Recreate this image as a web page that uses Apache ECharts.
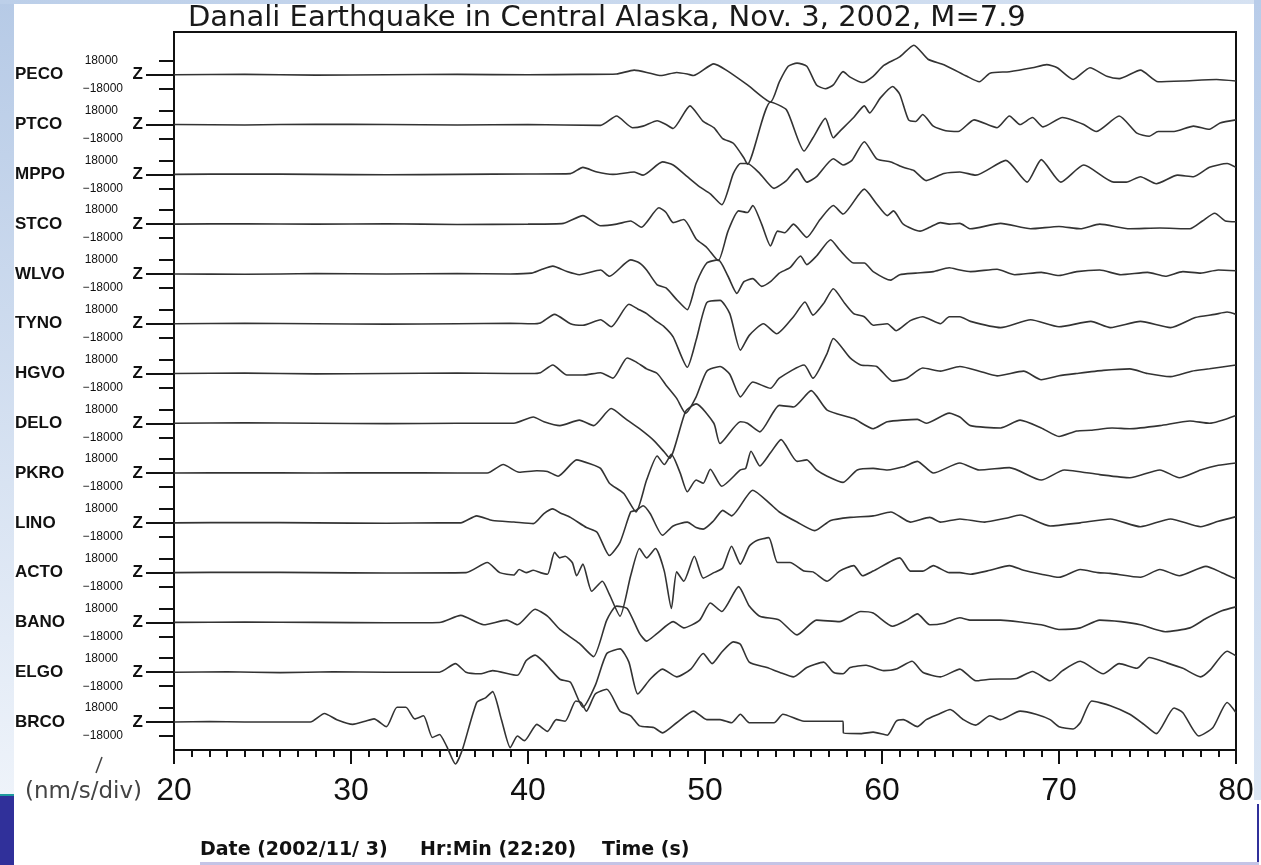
<!DOCTYPE html>
<html>
<head>
<meta charset="utf-8">
<title>Denali earthquake seismograms</title>
<script src="https://cdn.jsdelivr.net/npm/echarts@6/dist/echarts.min.js"></script>
<style>
  html, body { margin: 0; padding: 0; background: #ffffff; }
  #chart { width: 1261px; height: 865px; }
</style>
</head>
<body>
<div id="chart"></div>
<script>
// Station codes, top to bottom (vertical component Z)
const stations = ['PECO', 'PTCO', 'MPPO', 'STCO', 'WLVO', 'TYNO', 'HGVO',
                  'DELO', 'PKRO', 'LINO', 'ACTO', 'BANO', 'ELGO', 'BRCO'];

// Ground velocity per station: [time (s), amplitude (1000 nm/s)]
const PECO = [[20,0],[24,0.5],[28,-0.5],[32,0],[36,0.5],[40,0],[43,0.5],[45,1],[46,6],[46.9,2],[47.5,-1],[48.4,3],[49,1],[49.35,-1],[50.5,14],[51.2,6],[52.4,-13],[53.7,-35],[54.2,-9],[54.7,11],[55.2,15],[55.75,11],[56.3,-13],[56.8,-18],[57.25,-13],[57.8,4],[58.2,-3],[58.9,-10],[59.5,-2],[60.1,12],[61,23],[61.8,38],[62.6,20],[63.5,13],[64.8,-2],[65.5,-9],[66.1,2],[67.2,4],[68.5,9],[69.3,13],[69.9,9],[70.8,-6],[71.75,9],[72.7,-2],[73.4,-5],[74.6,6],[75.6,-9],[77,-8],[78.9,-6],[80,-8]];
const PTCO = [[20,0],[24,-0.5],[28,0.5],[32,0],[36,-0.5],[40,0],[44.1,-1],[45,11],[45.9,-4],[46.5,-2],[47.3,5],[47.8,0],[48.2,-5],[49.15,24],[49.9,4],[50.5,-4],[51,-18],[51.6,-24],[52.2,-43],[52.4,-51],[53.7,29],[54.6,19],[55.6,-34],[56.1,-17],[56.8,8],[57.25,-17],[57.6,-9],[58.4,9],[59,24],[59.3,15],[59.9,34],[60.6,49],[61,39],[61.5,6],[61.9,4],[62.3,13],[62.9,-2],[63.6,-8],[64.3,-9],[65.2,6],[66.5,-4],[67.2,11],[67.8,0],[68.5,9],[69.1,-3],[70.2,9],[71.4,0],[72.1,-9],[73.4,11],[74.4,-11],[75.1,-15],[75.6,-9],[76.5,-9],[77.6,-2],[78.5,-6],[79.1,2],[80,6]];
const MPPO = [[20,0],[24,0.5],[28,0],[32,-0.5],[36,0],[40,0.5],[42.4,1],[43.1,9],[43.9,3],[44.8,0],[46,3],[46.5,-1],[47.6,16],[48.2,12],[49,-3],[49.7,-16],[50.3,-25],[50.95,-39],[51.6,1],[52,14],[52.4,14],[53.1,1],[53.9,-18],[54.6,-8],[55.2,7],[55.75,-10],[56.3,-3],[57.25,20],[57.8,12],[58.3,18],[59,42],[59.7,20],[60.5,16],[61.2,9],[61.8,5],[62.5,-8],[63.5,1],[64.4,3],[65.3,-1],[67,18],[68.2,-10],[69,19],[70.1,-10],[71.4,12],[73.1,-10],[73.8,-10],[74.6,-3],[75.5,-12],[76.7,-1],[77.6,-3],[78.5,9],[79.5,14],[80,9]];
const STCO = [[20,0],[24,0.5],[28,0],[32,0.5],[36,-0.5],[40,0],[42,1],[43.1,11],[44.1,-2],[45,0],[45.8,4],[46.4,-4],[47.4,21],[47.8,15],[48.2,2],[48.8,6],[49.5,-19],[50.1,-30],[50.75,-47],[51.3,-9],[51.9,17],[52.4,15],[52.7,24],[53.2,0],[53.7,-28],[54.1,-9],[54.5,-11],[55,0],[55.75,-17],[56.5,6],[57.25,24],[57.8,13],[59,45],[59.7,26],[60.3,11],[60.65,17],[61.2,0],[62.15,-9],[62.7,-4],[63.3,2],[63.8,0],[64.4,1],[65,-6],[66.7,1],[68.4,-6],[70,-3],[71.2,-6],[72.3,0],[74,-6],[75.7,-5],[77.4,-6],[78.1,4],[78.8,14],[79.4,4],[80,3]];
const WLVO = [[20,0],[24,-0.5],[28,0.5],[32,0],[36,0.5],[39,0],[40.2,1],[40.7,5],[41.4,10],[42.2,3],[42.9,-1],[44.1,5],[44.6,-3],[45.8,18],[46.3,14],[46.7,5],[47.3,-14],[47.8,-18],[48.4,-33],[49,-46],[49.5,-12],[50.1,14],[50.75,18],[51.3,-3],[51.8,-25],[52.2,-10],[52.7,-6],[53.2,-16],[53.7,-10],[54.2,1],[54.8,8],[55.4,23],[55.75,12],[56.3,23],[57.1,44],[57.6,31],[58.4,14],[59,14],[59.5,3],[60.5,-8],[61,-1],[61.9,1],[62.9,3],[63.8,8],[64.4,5],[65,3],[66.5,6],[67.5,-1],[69,2],[70,-2],[71,3],[72.3,5],[73.5,-1],[75,2],[76,-3],[77,3],[78,1],[79,5],[80,4]];
const TYNO = [[20,0],[24,0.5],[28,0],[32,-0.5],[36,0],[39,0.5],[40.2,0],[40.7,1],[41.5,12],[42.4,0],[43.1,-2],[44.1,5],[44.7,-4],[45.7,25],[46.2,19],[46.7,13],[47.2,4],[47.7,-4],[48.2,-17],[49,-56],[49.5,-21],[50.1,27],[50.85,30],[51.4,13],[52,-34],[52.5,-15],[53.3,0],[54.05,-13],[55,9],[55.65,28],[56.1,11],[56.7,26],[57.25,45],[57.9,26],[58.4,13],[59,9],[59.5,-2],[60.3,0],[60.8,-9],[61.6,4],[62.3,9],[63.3,0],[63.8,9],[64.4,9],[65,3],[66.7,-5],[68.4,5],[70,-4],[71.8,3],[72.9,-5],[74.6,3],[76.3,-5],[77.7,8],[78.8,12],[79.5,15],[80,12]];
const HGVO = [[20,0],[24,0.5],[28,-0.5],[32,0],[36,0.5],[39,0],[40.2,0],[40.7,1],[41.4,11],[42.2,-2],[43.1,-2],[44.1,1],[44.8,-6],[45.6,20],[46.1,15],[46.7,6],[47.3,0],[47.8,-15],[48.4,-32],[48.9,-51],[49.5,-30],[50.1,3],[50.85,9],[51.4,-1],[52,-30],[52.7,-11],[53.7,-19],[54.2,-6],[55.6,11],[56.1,-6],[56.9,26],[57.25,45],[58.2,20],[58.8,11],[59.7,9],[60.6,-10],[61.4,-6],[62.3,7],[63.3,3],[64.4,9],[65.5,3],[66.5,-3],[68,3],[69,-8],[70,-3],[71,0],[72.5,4],[74,6],[75,0],[76.3,-4],[77.5,3],[78.5,6],[80,11]];
const DELO = [[20,0],[24,0.5],[28,0],[32,-0.5],[36,0],[39.2,0],[40.3,8],[40.9,2],[41.8,-3],[42.9,4],[43.7,-3],[44.7,19],[45.5,6],[46.3,-7],[47.1,-22],[47.7,-37],[48,-45],[48.9,15],[49.5,25],[50.5,0],[50.85,-26],[52,2],[52.4,0],[53.1,-11],[54.2,23],[55,21],[56,42],[56.9,17],[58.4,6],[59.5,-7],[60.3,2],[62,5],[62.5,0],[63.8,13],[64.4,8],[65,-3],[66.7,-6],[67.8,4],[69,-6],[70,-17],[71,-10],[71.8,-9],[73,-6],[74,-7],[75.7,-3],[77.4,3],[78.5,0],[80,10]];
const PKRO = [[20,0],[24,0.5],[28,0],[32,0.5],[36,0],[37.7,0],[38.6,11],[39.5,1],[40.5,3],[41.1,2],[41.7,-4],[42.75,17],[43.5,12],[44.1,6],[44.6,-13],[45.4,-26],[46.1,-50],[46.7,-9],[47.3,22],[47.7,11],[48.1,24],[48.6,0],[49,-24],[49.5,-9],[49.9,-13],[50.3,5],[50.95,-17],[52,4],[52.3,6],[52.6,28],[53.1,9],[53.7,26],[54.3,43],[55.2,15],[55.75,17],[56.3,4],[56.9,-4],[57.8,-12],[58.6,4],[59.5,6],[60.3,4],[61.2,8],[62,15],[62.9,0],[64.4,13],[65.5,4],[67.2,7],[69,-9],[70.3,4],[72.3,-2],[74,-6],[75.7,4],[76.8,-6],[78,4],[79,10],[80,13]];
const LINO = [[20,0],[24,0.5],[28,0],[32,-0.5],[35,0],[36.2,0],[37.1,9],[38,3],[39.2,1],[40.3,-1],[40.9,12],[41.4,18],[41.8,13],[42.4,7],[43.3,-6],[43.9,-12],[44.6,-42],[45.2,-25],[45.8,14],[46.1,16],[46.5,22],[46.9,12],[47.6,-16],[48.2,-4],[49,1],[49.5,-6],[49.9,-8],[50.5,3],[51,16],[51.5,9],[52.7,42],[53.7,24],[54.2,14],[55.2,1],[56.2,-10],[57.1,3],[58.2,7],[59.5,9],[60.5,14],[61.6,1],[62.7,7],[63.3,1],[64.4,5],[65.8,1],[67,6],[67.8,10],[69.5,-4],[71.2,0],[72.9,5],[74.6,-5],[76.3,5],[78,-5],[79,2],[80,8]];
const ACTO = [[20,0],[24,0.5],[28,0],[32,-0.5],[36.5,0],[37.7,13],[38.4,0],[39.2,-3],[39.5,4],[39.9,0],[40.3,3],[40.7,0],[41.1,-2],[41.5,26],[41.8,19],[42.1,21],[42.5,13],[42.75,-4],[43.1,11],[43.6,-24],[44.2,-11],[44.6,-28],[45.2,-56],[45.8,-4],[46.3,31],[46.7,19],[47.2,31],[47.7,2],[48.1,-46],[48.4,1],[48.8,-11],[49.4,21],[49.9,-7],[50.5,0],[51,6],[51.5,34],[52,11],[52.5,34],[52.9,41],[53.6,45],[54.1,13],[54.8,13],[55.6,2],[56.1,1],[56.9,-11],[57.6,2],[58.4,9],[58.9,-4],[59.5,2],[61,19],[61.6,2],[62.3,2],[62.9,9],[63.8,0],[64.4,0],[65,-2],[66.1,3],[67.2,9],[68,3],[69,-2],[70,-6],[71.2,4],[72.2,0],[72.9,-1],[74.6,-6],[75.7,4],[76.8,-4],[78.3,8],[79.2,0],[80,-8]];
const BANO = [[20,0],[24,0.5],[28,0],[32,-0.5],[35,0],[36.2,9],[37.5,-3],[38.8,3],[39.4,-3],[40.4,17],[41.1,8],[41.8,-9],[42.9,-27],[43.7,-44],[44.45,3],[45,21],[45.6,18],[46.3,-14],[46.7,-24],[47.3,-14],[48.2,1],[48.8,-7],[49.7,3],[50.3,25],[50.95,14],[51.9,46],[52.5,21],[53.1,8],[54.2,3],[55.2,-16],[56.3,3],[57.6,1],[58.8,14],[59.5,12],[60.6,-5],[61.4,3],[62,11],[62.7,-3],[63.5,-1],[64.4,6],[65,3],[66.7,3],[68,0],[69,-3],[70,-9],[71.2,-7],[72.3,3],[73.5,1],[74.6,-3],[76,-12],[77.4,-7],[78.3,5],[79.2,15],[80,20]];
const ELGO = [[20,0],[23,0.5],[26,-0.5],[29,0.5],[32,0],[35,0],[35.9,11],[36.5,0],[37.3,-2],[38,2],[39.4,-4],[39.9,15],[40.4,22],[40.9,13],[41.25,4],[41.8,-9],[42.4,-13],[43.1,-45],[43.8,-17],[44.45,24],[45.2,30],[45.7,13],[46.2,-28],[46.9,-9],[47.6,4],[48.4,-6],[49.2,4],[49.9,24],[50.4,11],[50.95,26],[51.6,39],[52,36],[52.5,13],[53.5,6],[54.2,0],[55,-6],[55.75,6],[56.7,13],[57.25,0],[57.8,-2],[58.2,6],[59.1,9],[60.1,2],[60.8,4],[61.7,14],[62.3,0],[63.3,-6],[64.4,4],[65.3,-11],[66.1,-9],[67.6,-8],[68.5,1],[69.5,-11],[70.2,2],[71.2,14],[72.5,-2],[73.4,11],[74.4,5],[75.1,19],[76.1,12],[77,5],[78,-6],[78.5,2],[79.5,27],[80,21]];
const BRCO = [[20,0],[22,0.5],[24,0],[26,0],[27.7,0],[28.5,11],[29.2,3],[30.1,-3],[30.8,1],[31.3,4],[32,-6],[32.6,19],[33.1,19],[33.6,4],[34.1,8],[34.6,-20],[35,-16],[35.4,-31],[35.9,-54],[36.3,-35],[37.1,25],[37.6,31],[38,39],[38.5,3],[39,-33],[39.4,-18],[39.8,-24],[40.5,-3],[41.1,-12],[41.6,3],[42.1,1],[42.7,27],[43,25],[43.3,14],[43.8,36],[44.45,42],[45.2,14],[45.8,8],[46.3,-5],[47.1,-7],[47.6,-14],[48.4,-1],[49.35,14],[50.1,3],[50.85,3],[51.5,-1],[52,10],[52.5,-1],[53.9,-1],[54.4,10],[55.6,1],[57.8,1],[57.82,-14],[58.8,-15],[59.5,-13],[60.3,-17],[60.8,1],[61.2,3],[62,-6],[62.5,3],[63.2,10],[63.85,16],[64.6,3],[65.3,-4],[66.1,8],[66.7,3],[67.8,14],[68.7,10],[69.5,3],[70,-6],[70.8,-9],[71.2,-1],[71.85,27],[72.9,21],[74,10],[74.8,-3],[75.5,-15],[76.5,18],[77,12],[77.9,-18],[78.7,-7],[79.5,25],[80,12]];

const traces = [PECO, PTCO, MPPO, STCO, WLVO, TYNO, HGVO, DELO, PKRO, LINO, ACTO, BANO, ELGO, BRCO];

// Time window (s) and amplitude scale
const timeRange = [20, 80];
const timeStep = 10;
const scaleTick = 18000;          // nm/s per division
const titleText = 'Danali Earthquake in Central Alaska, Nov. 3, 2002, M=7.9';
const unitText = '(nm/s/div)';
const footer = ['Date (2002/11/ 3)', 'Hr:Min (22:20)', 'Time (s)'];

// Trace stacking: each station gets its own zero line on a shared velocity axis
const AMP_UNIT = 1000;            // stored amplitudes are in 1000 nm/s
const SPACING = 64000;            // nm/s between adjacent zero lines
const baselines = stations.map((s, i) => (stations.length - 1 - i) * SPACING);
const Y_MIN = -36000, Y_MAX = 887000;

function nearestBaseline(v) {
  let best = baselines[0];
  for (const b of baselines) if (Math.abs(v - b) < Math.abs(v - best)) best = b;
  return best;
}
function scaleLabel(v) {
  const d = Math.round(v - nearestBaseline(v));
  return d < 0 ? '\u2212' + (-d) : String(d);
}

const INK = '#111';
const yBase = {
  type: 'value', min: Y_MIN, max: Y_MAX, position: 'left',
  splitLine: { show: false },
  axisLine: { show: false, onZero: false }, axisTick: { show: false }, axisLabel: { show: false }
};

const chart = echarts.init(document.getElementById('chart'), null, { renderer: 'canvas' });

chart.setOption({
  animation: false,
  backgroundColor: '#ffffff',
  title: {
    text: titleText, left: 188, top: 4, padding: 0,
    textStyle: { fontFamily: 'DejaVu Sans', fontSize: 29, fontWeight: 'normal', color: '#1a1a1a' }
  },
  grid: {
    left: 174, right: 25, top: 32, bottom: 115,
    show: true, borderColor: INK, borderWidth: 2, backgroundColor: 'transparent',
    outerBoundsMode: 'none'
  },
  xAxis: {
    type: 'value', min: timeRange[0], max: timeRange[1], interval: timeStep,
    axisLine: { onZero: false, lineStyle: { color: INK, width: 2 } },
    axisTick: { length: 14, lineStyle: { color: INK, width: 2 } },
    minorTick: { show: true, splitNumber: 10, length: 7, lineStyle: { color: INK, width: 2 } },
    splitLine: { show: false },
    axisLabel: { margin: 25, fontSize: 32, color: INK, fontFamily: 'Liberation Sans' }
  },
  yAxis: [
    // frame edge with the +/- scale ticks of every trace
    Object.assign({}, yBase, {
      axisLine: { show: true, onZero: false, lineStyle: { color: INK, width: 2 } },
      axisTick: { show: true, customValues: baselines.flatMap(b => [b - scaleTick, b + scaleTick]),
                  length: 15, lineStyle: { color: INK, width: 2 } }
    }),
    // zero line marks with the component letter
    Object.assign({}, yBase, {
      axisTick: { show: true, customValues: baselines, length: 28, lineStyle: { color: INK, width: 2 } },
      axisLabel: { show: true, customValues: baselines, formatter: () => 'Z', margin: 31,
                   fontSize: 17, fontWeight: 'bold', color: INK, fontFamily: 'Liberation Sans' }
    }),
    // upper scale labels
    Object.assign({}, yBase, {
      axisLabel: { show: true, customValues: baselines.map(b => b + scaleTick), formatter: scaleLabel,
                   margin: 56, fontSize: 12, color: INK, fontFamily: 'Liberation Sans', padding: [6, 0, 0, 0] }
    }),
    // lower scale labels
    Object.assign({}, yBase, {
      axisLabel: { show: true, customValues: baselines.map(b => b - scaleTick), formatter: scaleLabel,
                   margin: 51, fontSize: 12, color: INK, fontFamily: 'Liberation Sans', padding: [8, 0, 0, 0] }
    }),
    // station names
    Object.assign({}, yBase, {
      axisLabel: { show: true, customValues: baselines,
                   formatter: v => stations[baselines.indexOf(nearestBaseline(v))],
                   align: 'left', margin: 159, fontSize: 17, fontWeight: 'bold', color: INK,
                   fontFamily: 'Liberation Sans', padding: [3, 0, 0, 0] }
    })
  ],
  series: traces.map((tr, i) => ({
    type: 'line', name: stations[i], yAxisIndex: 0,
    data: tr.map(([t, a]) => [t, baselines[i] + a * AMP_UNIT]),
    showSymbol: false, symbol: 'none', clip: false, smooth: 0.2, silent: true,
    lineStyle: { color: '#333', width: 1.6 }
  })),
  graphic: [
    // slide frame around the figure
    { type: 'rect', z: -10, shape: { x: 0, y: 0, width: 14, height: 795 },
      style: { fill: { type: 'linear', x: 0, y: 0, x2: 0, y2: 1,
        colorStops: [{ offset: 0, color: '#b6cae6' }, { offset: 1, color: '#eef3fa' }] } } },
    { type: 'rect', z: -10, shape: { x: 0, y: 0, width: 1261, height: 4 },
      style: { fill: { type: 'linear', x: 0, y: 0, x2: 1, y2: 0,
        colorStops: [{ offset: 0, color: '#bccfe9' }, { offset: 1, color: '#d6e2f2' }] } } },
    { type: 'rect', z: -10, shape: { x: 1254, y: 0, width: 7, height: 800 },
      style: { fill: { type: 'linear', x: 0, y: 0, x2: 0, y2: 1,
        colorStops: [{ offset: 0, color: '#b8cce9' }, { offset: 1, color: '#dbe6f4' }] } } },
    { type: 'rect', z: -10, shape: { x: 0, y: 795, width: 14, height: 70 }, style: { fill: '#30309a' } },
    { type: 'rect', z: -10, shape: { x: 0, y: 794, width: 14, height: 2 }, style: { fill: '#1f9a9e' } },
    { type: 'rect', z: -10, shape: { x: 1257, y: 804, width: 2, height: 61 }, style: { fill: '#30309a' } },
    { type: 'rect', z: -10, shape: { x: 200, y: 862, width: 1059, height: 3 }, style: { fill: '#c4c4e6' } },
    // amplitude unit note
    { type: 'line', shape: { x1: 96, y1: 773, x2: 102, y2: 757 }, style: { stroke: '#444', lineWidth: 1.5 } },
    { type: 'text', x: 25, y: 792, style: { text: unitText, fontFamily: 'DejaVu Sans', fontSize: 23,
        fill: '#444', verticalAlign: 'middle' } },
    // date / time footer
    { type: 'text', x: 200, y: 850, style: { text: footer[0], fontFamily: 'DejaVu Sans', fontWeight: 'bold',
        fontSize: 19, fill: INK, verticalAlign: 'middle' } },
    { type: 'text', x: 420, y: 850, style: { text: footer[1], fontFamily: 'DejaVu Sans', fontWeight: 'bold',
        fontSize: 19, fill: INK, verticalAlign: 'middle' } },
    { type: 'text', x: 602, y: 850, style: { text: footer[2], fontFamily: 'DejaVu Sans', fontWeight: 'bold',
        fontSize: 19, fill: INK, verticalAlign: 'middle' } }
  ]
});
</script>
</body>
</html>
